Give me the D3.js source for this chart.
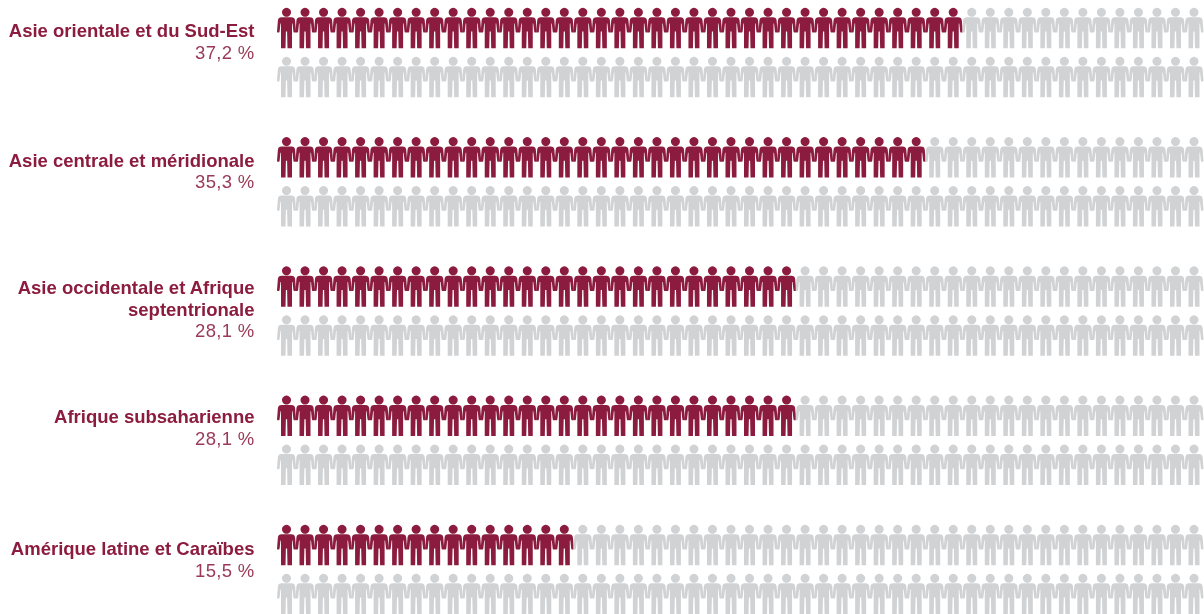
<!DOCTYPE html>
<html><head><meta charset="utf-8">
<script src="https://cdn.jsdelivr.net/npm/d3@7"></script>
<style>html,body{margin:0;padding:0;background:#fff}svg{display:block;filter:blur(.5px)}text{font-family:"Liberation Sans",Arial,sans-serif}</style>
</head><body><svg id="c" width="1204" height="614"></svg>
<script>
const categories=[["Asie orientale et du Sud-Est"],["Asie centrale et méridionale"],["Asie occidentale et Afrique","septentrionale"],["Afrique subsaharienne"],["Amérique latine et Caraïbes"]];
const percentLabels=["37,2 %","35,3 %","28,1 %","28,1 %","15,5 %"];
const filledIcons=[37,35,28,28,16];
const iconsPerRow=50;
const rowsPerGroup=[0,1];
const RED="#8c1c3f",GREY="#d1d2d4";
const svg=d3.select("#c");
const x=d3.scaleLinear().domain([0,iconsPerRow-1]).range([286.5,1194]);
const yGroup=d3.scaleLinear().domain([0,4]).range([8,525]);
const yRow=d3.scaleLinear().domain([0,1]).range([0,49]);
const labelOffset=[29,29.5,27.5,27.5,30];
const person="M0,-.2a4.5,4.5 0 1 0 .01,0Z"+
"M-4.8,9.2H4.8C7.2,9.2 8.3,10.4 8.6,12.4L9.5,23.4Q9.5,24.6 8.2,24.6Q7.1,24.6 6.9,23.4L6,15.6L5.5,15.6V40.2H1L.6,23.5H-.6L-1,40.2H-5.5V15.6L-6,15.6L-6.9,23.4Q-7.1,24.6 -8.2,24.6Q-9.5,24.6 -9.5,23.4L-8.6,12.4C-8.3,10.4 -7.2,9.2 -4.8,9.2Z";
const groups=svg.selectAll("g.group").data(categories).join("g").attr("class","group")
 .attr("transform",(d,i)=>`translate(0,${yGroup(i)})`);
groups.each(function(lines,gi){
  const g=d3.select(this);
  rowsPerGroup.forEach(r=>{
    const cells=d3.range(iconsPerRow).map(k=>({k,on:r===0&&k<filledIcons[gi]}));
    g.append("g").selectAll("path").data(cells).join("path")
     .attr("d",person).attr("fill",d=>d.on?RED:GREY)
     .attr("transform",d=>`translate(${x(d.k)},${yRow(r)})`);
  });
  const lineStep=21.5, base=labelOffset[gi];
  lines.forEach((t,i)=>g.append("text").attr("x",254.5).attr("y",base+i*lineStep).attr("text-anchor","end")
     .attr("font-size",18.5).attr("font-weight",700).attr("fill",RED).text(t));
  g.append("text").attr("x",254.5).attr("y",base+lines.length*lineStep).attr("text-anchor","end")
     .attr("font-size",18.5).attr("letter-spacing",.3).attr("fill","#9a3a58").text(percentLabels[gi]);
});
</script></body></html>
